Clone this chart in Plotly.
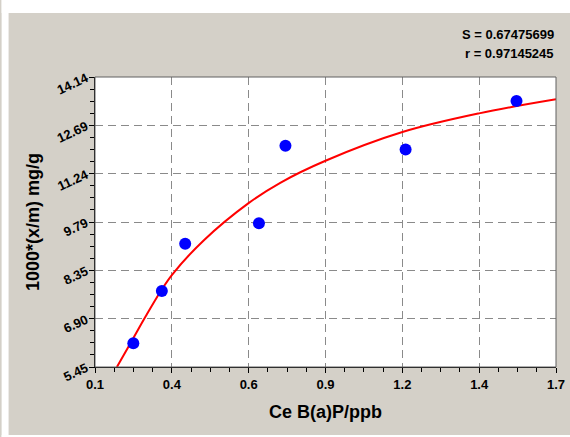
import plotly.graph_objects as go

# Measured data points
X_POINTS = [0.233, 0.332, 0.413, 0.669, 0.761, 1.178, 1.563]
Y_POINTS = [6.16, 7.73, 9.14, 9.76, 12.08, 11.97, 13.42]

# Fitted curve
X_CURVE = [0.176, 0.230, 0.276, 0.328, 0.368, 0.478, 0.633, 0.743, 0.90, 1.167, 1.433, 1.70]
Y_CURVE = [5.45, 6.27, 6.97, 7.72, 8.22, 9.25, 10.36, 10.97, 11.63, 12.49, 13.05, 13.47]

X_RANGE = [0.1, 1.7]
Y_RANGE = [5.45, 14.14]
X_TICK_LABELS = ["0.1", "0.4", "0.6", "0.9", "1.2", "1.4", "1.7"]
Y_TICK_LABELS = ["5.45", "6.90", "8.35", "9.79", "11.24", "12.69", "14.14"]

STATS = ["S = 0.67475699", "r = 0.97145245"]

nx = len(X_TICK_LABELS) - 1
ny = len(Y_TICK_LABELS) - 1
xdt = (X_RANGE[1] - X_RANGE[0]) / nx
ydt = (Y_RANGE[1] - Y_RANGE[0]) / ny
xtv = [X_RANGE[0] + i * xdt for i in range(nx + 1)]
ytv = [Y_RANGE[0] + i * ydt for i in range(ny + 1)]

FONT = "Liberation Sans, Arial, sans-serif"
GREY = "#d4d0c8"

fig = go.Figure()
fig.add_trace(go.Scatter(x=X_CURVE, y=Y_CURVE, mode="lines",
                         line=dict(color="#ff0000", width=2, shape="spline", smoothing=1.0),
                         hoverinfo="skip"))
fig.add_trace(go.Scatter(x=X_POINTS, y=Y_POINTS, mode="markers",
                         marker=dict(color="#0000ff", size=12, line=dict(width=0))))

# horizontal compensation factor for the capture
SX = 577 / 570
W, H = 577, 437
ML = round(94 * SX)
MR = W - round(557 * SX)
MT, MB = 77, 70
pw = W - ML - MR
ph = H - MT - MB


def px_x(p):
    return (p * SX - ML) / pw


def px_y(p):
    return (H - MB - p) / ph


# white strips around the grey panel
fig.add_shape(type="rect", xref="paper", yref="paper", layer="below",
              x0=px_x(0), x1=px_x(570) + 0.05, y0=px_y(13), y1=px_y(0),
              fillcolor="white", line=dict(width=0))
fig.add_shape(type="rect", xref="paper", yref="paper", layer="below",
              x0=px_x(0), x1=px_x(7), y0=px_y(H), y1=px_y(0),
              fillcolor="white", line=dict(width=0))
fig.add_shape(type="rect", xref="paper", yref="paper", layer="below",
              x0=px_x(0), x1=px_x(570) + 0.05, y0=px_y(H), y1=px_y(435),
              fillcolor="white", line=dict(width=0))
# plot frame
fig.add_shape(type="rect", xref="paper", yref="paper", layer="above",
              x0=0, x1=1, y0=0, y1=1, line=dict(color="#606060", width=1))

axis_common = dict(showline=True, linecolor="black", linewidth=1, ticks="outside", ticklen=5,
                   tickcolor="black", showgrid=True, gridcolor="#8a8a8a", gridwidth=1, griddash="8px,5px",
                   zeroline=False, tickfont=dict(family=FONT, size=13, color="black", weight="bold"),
                   title_font=dict(family=FONT, size=18, color="black", weight="bold"))

fig.update_xaxes(range=X_RANGE, tickmode="array", tickvals=xtv, ticktext=X_TICK_LABELS,
                 minor=dict(tickmode="linear", tick0=X_RANGE[0], dtick=xdt / 4, ticks="outside", ticklen=4,
                            tickcolor="black", showgrid=False),
                 title=dict(text="Ce B(a)P/ppb", standoff=14), **axis_common)
fig.update_yaxes(range=Y_RANGE, tickmode="array", tickvals=ytv, ticktext=Y_TICK_LABELS, tickangle=-25,
                 minor=dict(tickmode="linear", tick0=Y_RANGE[0], dtick=ydt / 4, ticks="outside", ticklen=4,
                            tickcolor="black", showgrid=False),
                 title=dict(text="1000*(x/m) mg/g", standoff=10), **axis_common)

for i, s in enumerate(STATS):
    fig.add_annotation(text=s, xref="paper", yref="paper", x=1.0, y=px_y(35 + 18 * i),
                       xanchor="right", yanchor="middle", showarrow=False,
                       font=dict(family=FONT, size=13, color="black", weight="bold"))

fig.update_layout(width=W, height=H, margin=dict(l=ML, r=MR, t=MT, b=MB, pad=0),
                  paper_bgcolor=GREY, plot_bgcolor="white", showlegend=False)

fig.write_html("out.html", config={"displayModeBar": False},
               post_script="document.body.style.margin='0';document.body.style.overflow='hidden';")
